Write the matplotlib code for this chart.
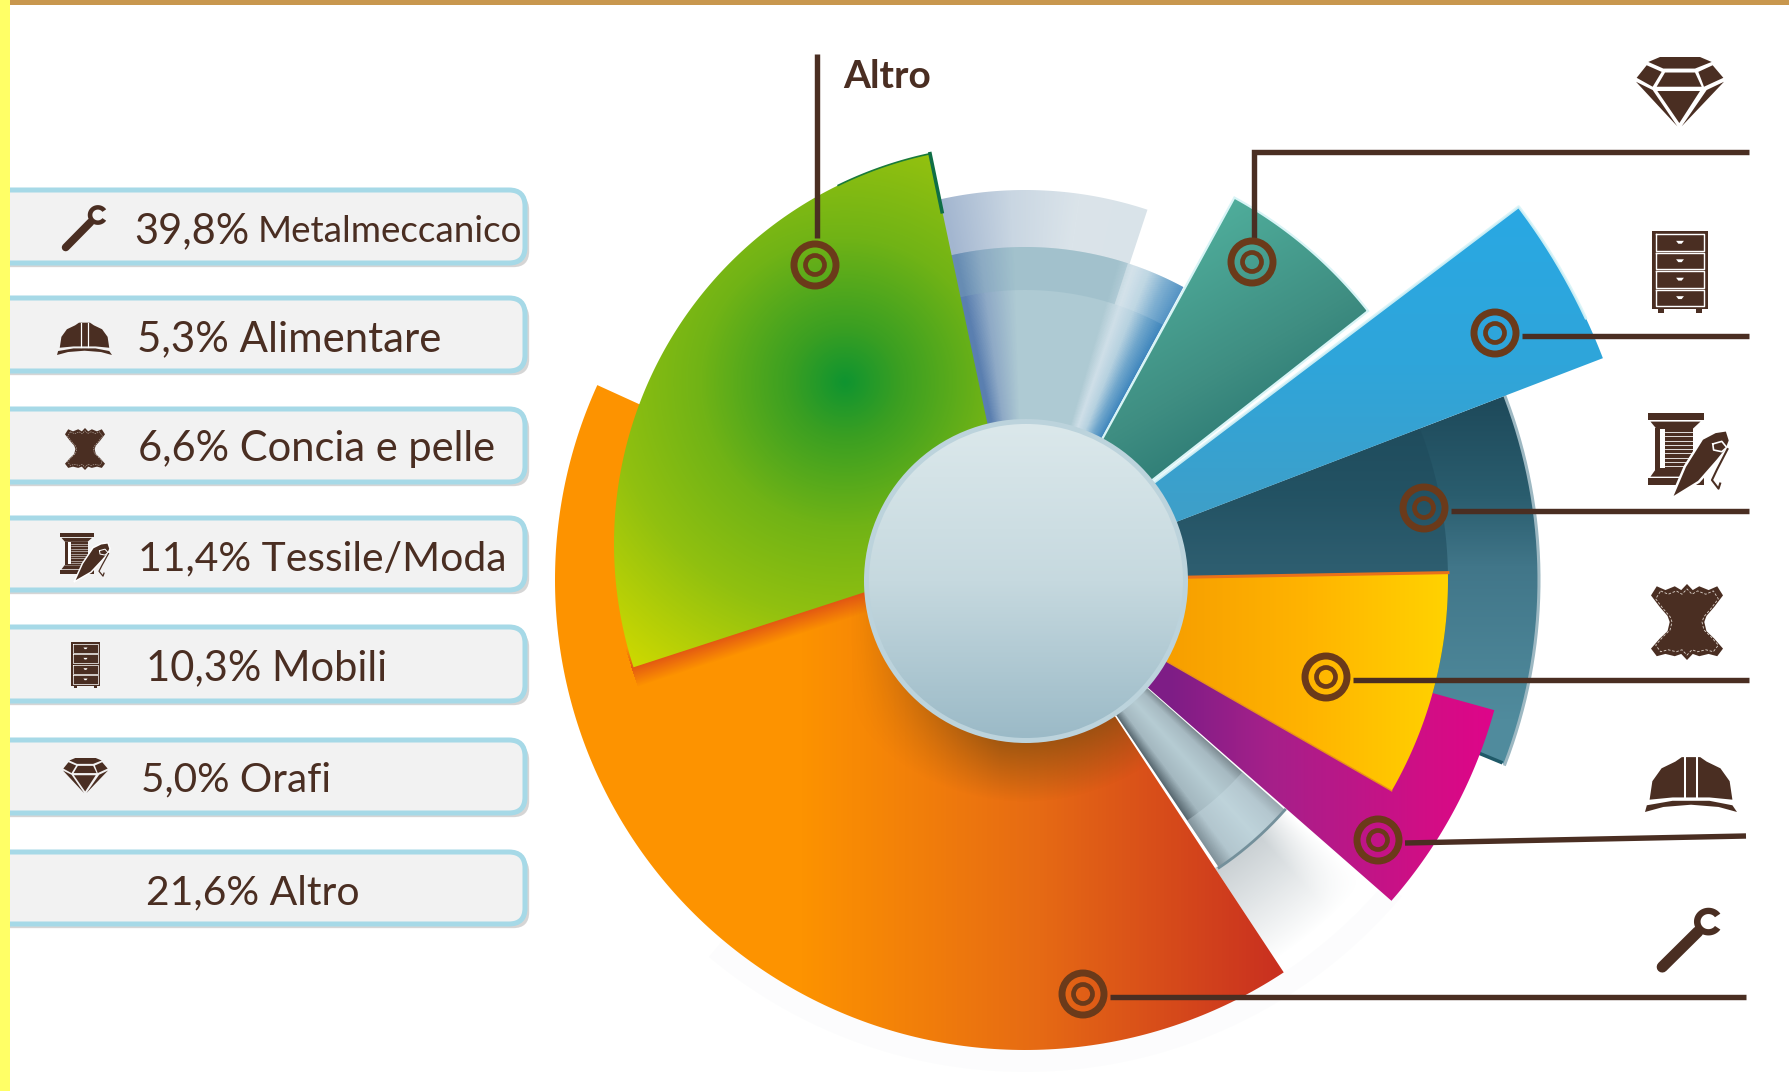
import numpy as np
import matplotlib
matplotlib.use('Agg')
import matplotlib.pyplot as plt
from matplotlib.colors import LinearSegmentedColormap, to_rgb
from matplotlib.patches import Polygon, Circle, FancyBboxPatch, Rectangle
import matplotlib.patheffects as pe

# values
sectors = ['Metalmeccanico', 'Alimentare', 'Concia e pelle', 'Tessile/Moda', 'Mobili', 'Orafi', 'Altro']
percent_labels = ['39,8%', '5,3%', '6,6%', '11,4%', '10,3%', '5,0%', '21,6%']
icon_names = ['wrench', 'helmet', 'leather', 'spool', 'drawer', 'diamond', None]
# drawn angle span and radius of each slice (the drawing is not to scale)
theta_start = [155.5, -41.2, -29.9, -21.0, 21.0, 38.1, 102.0]
theta_end = [303.4, -15.5, 1.0, 21.0, 37.1, 61.3, 198.0]
slice_radius = [470, 487, 423, 514, 619, 436, 399]

W, H = 1789, 1091
BROWN = '#4a2e22'
RING = '#6b3a1a'
CX, CY = 1025, 580

plt.rcParams['font.family'] = ['Lato', 'DejaVu Sans']
fig = plt.figure(figsize=(W / 100, H / 100), dpi=100, facecolor='white')
ax = fig.add_axes([0, 0, 1, 1])
ax.set_xlim(0, W)
ax.set_ylim(H, 0)
ax.axis('off')
ax.set_autoscale_on(False)

X, Y = np.meshgrid(np.arange(W) + 0.5, np.arange(H) + 0.5)


def sector(a0, a1, r, r0=0, cx=CX, cy=CY):
    t = np.radians(np.linspace(a0, a1, 200))
    outer = np.c_[cx + r * np.cos(t), cy - r * np.sin(t)]
    if r0 > 0:
        inner = np.c_[cx + r0 * np.cos(t[::-1]), cy - r0 * np.sin(t[::-1])]
    else:
        inner = np.array([[cx, cy]])
    return np.vstack([outer, inner])


def grad_fill(pts, field, stops, z, edge=None, elw=0):
    # gradient image clipped to a polygon
    cmap = LinearSegmentedColormap.from_list('g', stops)
    im = ax.imshow(cmap(np.clip(field, 0, 1)), extent=(0, W, H, 0), zorder=z, aspect='auto', interpolation='bilinear')
    clip = Polygon(pts, closed=True, fc='none', ec='none', transform=ax.transData)
    ax.add_patch(clip)
    im.set_clip_path(clip)
    if edge:
        ax.add_patch(Polygon(pts, closed=True, fc='none', ec=edge, lw=elw, zorder=z + 0.1))


def shade(pts, alpha, color, z):
    # translucent overlay with alpha taken from a field
    rgba = np.zeros((H, W, 4))
    rgba[..., :3] = to_rgb(color)
    rgba[..., 3] = np.clip(alpha, 0, 1)
    im = ax.imshow(rgba, extent=(0, W, H, 0), zorder=z, aspect='auto', interpolation='bilinear')
    clip = Polygon(pts, closed=True, fc='none', ec='none', transform=ax.transData)
    ax.add_patch(clip)
    im.set_clip_path(clip)


R = np.hypot(X - CX, Y - CY)
TH = np.degrees(np.arctan2(CY - Y, X - CX))

# pale blue slice behind everything, upper part
grad_fill(sector(71.7, 107, 390, 320), (TH - 71.7) / 30.6,
          ['#d9e3e9', '#dbe4ea', '#c9d6e2', '#a3b6d0'], 2)
grad_fill(sector(61.6, 107, 333), (TH - 61.6) / 40.4,
          [(0, '#3f86bd'), (0.08, '#6fa6cc'), (0.16, '#b7d2e0'), (0.23, '#cfdfe8'), (0.3, '#aecad3'),
           (0.75, '#aecad3'), (0.9, '#8ea9c6'), (1, '#5a7fb0')], 3)
shade(sector(72, 107, 333, 290), 0.3 + 0 * X, '#86aebd', 3.2)
shade(sector(61.6, 72, 333, 290), 0.12 + 0 * X, '#ffffff', 3.2)

# dark teal slice
a = 3
grad_fill(sector(theta_start[a], theta_end[a], slice_radius[a]), (Y - 400) / 320,
          [(0, '#1e4a5b'), (0.3, '#2a5d6e'), (0.52, '#417689'), (1, '#508b9d')], 4)
shade(sector(theta_start[a], theta_end[a], 423), 0.55 + 0 * X, '#1e4a5b', 4.1)
arc = sector(theta_start[a], theta_end[a], slice_radius[a])[:200]
ax.plot(arc[:, 0], arc[:, 1], color='#9db8c2', lw=2.2, zorder=4.2)
ax.plot([arc[0, 0] - 4, arc[0, 0] - 38], [arc[0, 1] - 2, arc[0, 1] - 16], color='#1f5968', lw=2.5, zorder=4.2)

# teal slice
a = 5
grad_fill(sector(theta_start[a], theta_end[a], slice_radius[a]), ((X - 1230) * 0.5 + (Y - 200) * 0.85) / 280,
          ['#4fad9b', '#3f8e82', '#1f6c6a'], 5, edge='#d8f4f6', elw=1.6)

# blue slice
a = 4
pts = sector(theta_start[a], theta_end[a], slice_radius[a])
grad_fill(pts, (Y - 210) / 310, ['#29a8e3', '#2fa5da', '#3f9fc8'], 6)
ax.plot(pts[50:, 0], pts[50:, 1], color='#d8f4f8', lw=2, zorder=6.1, alpha=0.9)

# small grey slice and its soft shadow
shade(sector(-56.6, -41.5, 480, 345), 0.42 * (1 - (R - 345) / 110) * np.clip((TH + 41.5) / -6, 0, 1), '#7d8d95', 2)
grad_fill(sector(-56, -41.5, 347), (TH + 56) / 14.5,
          [(0, '#56666e'), (0.2, '#a4b8c0'), (0.55, '#b6ccd3'), (0.85, '#a7bac2'), (1, '#7d8b92')], 6.5)
shade(sector(-56, -41.5, 347, 290), 0.35 + 0 * X, '#cfe2ea', 6.6)
end = sector(-56, -41.5, 347)[:200]
ax.plot(end[:, 0], end[:, 1], color='#74909b', lw=2, zorder=6.7)

# magenta slice
a = 1
grad_fill(sector(theta_start[a], theta_end[a], slice_radius[a]), (X - 1170) / 330,
          [(0, '#7e1d86'), (0.3, '#a5208a'), (0.8, '#d30d85'), (1, '#e0048a')], 7)

# yellow slice
a = 2
pts = sector(theta_start[a], theta_end[a], slice_radius[a])
grad_fill(pts, (X - 1170) / 277, ['#f79f00', '#ffb400', '#ffd200'], 8)
ax.plot([CX, pts[199, 0]], [CY, pts[199, 1]], color='#e9711a', lw=2.2, zorder=8.1)
ax.plot([CX, pts[0, 0]], [CY, pts[0, 1]], color='#e9921a', lw=1, zorder=8.1)

# orange slice
a = 0
o_pts = sector(theta_start[a], theta_end[a], slice_radius[a])
grad_fill(o_pts, (X - 800) / 480, [(0, '#fd9300'), (0.5, '#e66a14'), (1, '#c93020')], 9)
shade(o_pts, 0.65 * (1 - (R - 162) / 60) * np.clip((X - 850) / 150, 0, 1), '#7a4a10', 9.1)
shade(sector(-130, -40, 492, 470), 0.03 + 0 * X, '#9fb4bc', 1)

# green slice has its own centre
a = 6
gx, gy = 1013, 544
g_pts = sector(theta_start[a], theta_end[a], slice_radius[a], cx=gx, cy=gy)
gd = np.hypot(X - 845, Y - 382) / 360
grad_fill(g_pts, gd, [(0, '#0f9430'), (0.15, '#3a9f22'), (0.4, '#70b316'), (0.65, '#90c010'), (1, '#d0da00')], 10)
# shadow the green slice drops on the orange one
lx0, ly0 = g_pts[199][0], g_pts[199][1]
dirx, diry = gx - lx0, gy - ly0
ln = np.hypot(dirx, diry)
dist = ((X - lx0) * (-diry) + (Y - ly0) * dirx) / ln
along = ((X - lx0) * dirx + (Y - ly0) * diry) / ln
shade(o_pts, np.clip(0.7 * (1 - np.abs(dist) / 20), 0, 1) * (along > -2), '#d8401a', 9.2)
top = g_pts[:30]
ax.plot(top[:, 0], top[:, 1], color='#1a7a3a', lw=1.2, zorder=10.2)
ax.plot([g_pts[0, 0], g_pts[0, 0] + 12], [g_pts[0, 1], g_pts[0, 1] + 58], color='#0f6e45', lw=2.6, zorder=10.2)

# centre disc
ax.add_patch(Circle((CX + 1, CY + 1), 162, fc='#bcd3dc', ec='none', zorder=11))
disc = Circle((CX + 1, CY + 1), 157, fc='none', ec='none')
ax.add_patch(disc)
im = ax.imshow(LinearSegmentedColormap.from_list('d', ['#dbe8eb', '#c6d9df', '#9bbac7'])(np.clip((Y - 424) / 314, 0, 1)),
               extent=(0, W, H, 0), zorder=11.1, aspect='auto', interpolation='bilinear')
im.set_clip_path(disc)

# leader lines and target markers
leaders = [
    ([817, 817], [54, 238]),
    ([1254, 1254, 1749], [238, 152, 152]),
    ([1522, 1749], [336, 336]),
    ([1451, 1749], [511, 511]),
    ([1353, 1749], [680, 680]),
    ([1405, 1746], [843, 836]),
    ([1110, 1746], [997, 997]),
]
for xs, ys in leaders:
    ax.plot(xs, ys, color=BROWN, lw=3.9, solid_capstyle='butt', solid_joinstyle='miter', zorder=14)
for mx, my in [(815, 265), (1252, 262), (1495, 333), (1424, 508), (1326, 677), (1378, 840), (1083, 994)]:
    ax.add_patch(Circle((mx, my), 21, fc='none', ec=RING, lw=5, zorder=14))
    ax.add_patch(Circle((mx, my), 9.5, fc='none', ec=RING, lw=3.4, zorder=14))

ax.text(843, 77, 'Altro', fontsize=28, fontweight='bold', color=BROWN, ha='left', va='center', zorder=15)


# icons are drawn in a unit box mapped onto a pixel box
def draw_icon(name, x0, y0, x1, y1, z=15):
    sx, sy = x1 - x0, y1 - y0
    k = sx * 0.72

    def m(p):
        p = np.asarray(p, dtype=float)
        return np.c_[x0 + p[:, 0] * sx, y0 + p[:, 1] * sy]

    def fill(p, c=BROWN, zz=z):
        ax.add_patch(Polygon(m(p), closed=True, fc=c, ec='none', zorder=zz))

    def line(p, c='white', w=0.03, zz=z + 0.1, **kw):
        q = m(p)
        ax.plot(q[:, 0], q[:, 1], color=c, lw=k * w, zorder=zz, **kw)

    if name == 'diamond':
        polys = [[(205, 95), (240, 80), (360, 80), (395, 95), (345, 115), (250, 115)],
                 [(170, 143), (200, 105), (245, 125), (218, 170)],
                 [(255, 127), (345, 127), (365, 170), (230, 170)],
                 [(355, 125), (398, 105), (430, 143), (372, 170)],
                 [(168, 155), (218, 180), (292, 290)],
                 [(232, 183), (360, 183), (298, 280)],
                 [(432, 155), (380, 180), (305, 290)]]
        for p in polys:
            fill([((u - 168) / 264, (v - 80) / 215) for u, v in p])
    elif name == 'drawer':
        fill([(0, 0), (1, 0), (1, 0.95), (0, 0.95)])
        fill([(0.1, 0.95), (0.22, 0.95), (0.22, 1), (0.1, 1)])
        fill([(0.78, 0.95), (0.9, 0.95), (0.9, 1), (0.78, 1)])
        for top, bot in [(0.04, 0.24), (0.27, 0.46), (0.49, 0.69), (0.72, 0.91)]:
            line([(0.07, top), (0.93, top), (0.93, bot), (0.07, bot), (0.07, top)], w=0.025)
            mid = (top + bot) / 2 - 0.02
            fill([(0.43, mid), (0.57, mid), (0.53, mid + 0.035), (0.47, mid + 0.035)], c='white', zz=z + 0.1)
    elif name == 'helmet':
        fill([(0.05, 0.78), (0.08, 0.45), (0.18, 0.22), (0.33, 0.1), (0.4, 0.02), (0.6, 0.02), (0.67, 0.1),
              (0.82, 0.22), (0.92, 0.45), (0.95, 0.78), (0.7, 0.74), (0.3, 0.74)])
        fill([(0, 1), (0.02, 0.88), (0.3, 0.8), (0.7, 0.8), (0.95, 0.88), (1, 1), (0.8, 0.91), (0.5, 0.87), (0.2, 0.91)])
        line([(0.43, 0.02), (0.43, 0.76)], w=0.022)
        line([(0.57, 0.02), (0.57, 0.76)], w=0.022)
    elif name == 'leather':
        outline = [(0.08, 0.03), (0.2, 0.08), (0.33, 0.03), (0.42, 0.08), (0.5, 0), (0.58, 0.08), (0.67, 0.03),
                   (0.8, 0.08), (0.92, 0.03), (1, 0.15), (0.88, 0.3), (0.77, 0.42), (0.74, 0.5), (0.77, 0.62),
                   (0.88, 0.72), (1, 0.85), (0.92, 0.95), (0.8, 0.92), (0.67, 0.95), (0.58, 0.92), (0.5, 1),
                   (0.42, 0.92), (0.33, 0.95), (0.2, 0.92), (0.08, 0.95), (0, 0.85), (0.12, 0.72), (0.23, 0.62),
                   (0.26, 0.5), (0.23, 0.42), (0.12, 0.3), (0, 0.15)]
        fill(outline)
        stitch = [(0.5 + (u - 0.5) * 0.87, 0.5 + (v - 0.5) * 0.87) for u, v in outline + outline[:1]]
        line(stitch, c='#d9d0c8', w=0.012, ls=(0, (3, 2)))
    elif name == 'wrench':
        t = np.radians(np.linspace(35, 325, 50))
        ring = np.r_[np.c_[0.78 + 0.22 * np.cos(t), 0.2 - 0.22 * np.sin(t)],
                     np.c_[0.78 + 0.12 * np.cos(t[::-1]), 0.2 - 0.12 * np.sin(t[::-1])]]
        fill(ring)
        line([(0.08, 0.92), (0.62, 0.36)], c=BROWN, w=0.17, zz=z, solid_capstyle='round')
    elif name == 'spool':
        fill([(0, 0), (0.68, 0), (0.68, 0.08), (0, 0.08)])
        fill([(0.03, 0.1), (0.64, 0.1), (0.55, 0.18), (0.1, 0.18)])
        fill([(0.09, 0.18), (0.55, 0.18), (0.55, 0.66), (0.09, 0.66)])
        for yy in [0.22, 0.27, 0.32, 0.37, 0.42, 0.47, 0.52, 0.57, 0.62]:
            line([(0.21, yy), (0.55, yy)], w=0.01)
        fill([(0.15, 0.19), (0.21, 0.19), (0.21, 0.64), (0.15, 0.64)], c='white', zz=z + 0.1)
        fill([(0.09, 0.66), (0.55, 0.66), (0.62, 0.74), (0.03, 0.74)])
        fill([(0, 0.76), (0.68, 0.76), (0.68, 0.84), (0, 0.84)])
        needle = [(0.28, 1), (0.45, 0.62), (0.66, 0.3), (0.82, 0.22), (0.96, 0.2), (1, 0.32), (0.96, 0.42), (0.85, 0.55),
                  (0.62, 0.8)]
        ax.add_patch(Polygon(m(needle), closed=True, fc=BROWN, ec='white', lw=k * 0.03, zorder=z + 0.2))
        line([(0.79, 0.36), (0.9, 0.33), (0.96, 0.4), (0.9, 0.45), (0.8, 0.43), (0.79, 0.36)], w=0.02, zz=z + 0.3)
        line([(0.97, 0.42), (0.84, 0.66), (0.78, 0.78), (0.86, 0.88), (0.88, 0.82)], c=BROWN, w=0.025, zz=z + 0.3)


# icons to the right of the chart
for nm, box in [('diamond', (1636, 57, 1724, 128)), ('drawer', (1652, 231, 1708, 313)),
                ('spool', (1648, 413, 1730, 499)), ('leather', (1651, 584, 1723, 660)),
                ('helmet', (1645, 756, 1737, 812)), ('wrench', (1657, 909, 1723, 972))]:
    draw_icon(nm, *box)

# legend boxes on the left
box_tops = [190, 298, 409, 518, 627, 740, 852]
box_bottoms = [263, 371, 482, 590, 701, 813, 924]
text_x = [134, 137, 138, 138, 146, 141, 146]
text_y = [231, 339, 449, 559, 668, 780, 893]
label_size = [30, 30.2, 30, 29.4, 30, 29.2, 29.4]
icon_boxes = [(62, 206, 108, 251), (57, 322, 112, 355), (65, 428, 105, 470), (60, 533, 110, 582),
              (71, 642, 100, 688), (63, 758, 108, 794), None]
for i, name in enumerate(sectors):
    ax.add_patch(FancyBboxPatch((-30, box_tops[i]), 555, box_bottoms[i] - box_tops[i],
                                boxstyle='round,pad=0,rounding_size=16', fc='#f2f2f2', ec='#a6d9e7', lw=3.6, zorder=12,
                                path_effects=[pe.SimplePatchShadow(offset=(3, -3), shadow_rgbFace='#777777', alpha=0.3),
                                              pe.Normal()]))
    if name == 'Metalmeccanico':
        ax.text(text_x[i], text_y[i], percent_labels[i], fontsize=label_size[i], color=BROWN, ha='left', va='center', zorder=13)
        ax.text(258, text_y[i] + 1, name, fontsize=26.5, color=BROWN, ha='left', va='center', zorder=13)
    else:
        ax.text(text_x[i], text_y[i], percent_labels[i] + ' ' + name, fontsize=label_size[i], color=BROWN, ha='left',
                va='center', zorder=13)
    if icon_names[i]:
        draw_icon(icon_names[i], *icon_boxes[i])

# page edges
ax.add_patch(Rectangle((0, 0), 10, H, fc='#ffff66', ec='none', zorder=20))
ax.add_patch(Rectangle((10, 0), W - 10, 5, fc='#c8974e', ec='none', zorder=20))

fig.savefig('out.png', dpi=100)
